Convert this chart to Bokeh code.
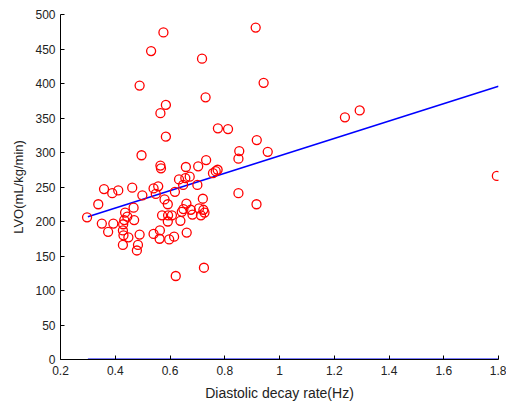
from bokeh.plotting import figure
from bokeh.models import FixedTicker, CustomJSTickFormatter, Range1d
from bokeh.embed import file_html
from bokeh.resources import INLINE

# Scatter data (Diastolic decay rate in Hz, LVO in mL/kg/min)
decay_rate = [
    0.576, 0.913, 0.531, 0.717, 0.489, 0.942, 0.730, 0.585, 0.565, 0.775,
    0.812, 0.585, 0.917, 0.496, 0.853, 0.957, 0.850, 0.732, 1.239, 1.293,
    1.794, 0.916, 0.850, 0.565, 0.567, 0.658, 0.703, 0.757, 0.767, 0.774,
    0.633, 0.656, 0.672, 0.648, 0.700, 0.540, 0.557, 0.548, 0.618, 0.580,
    0.592, 0.720, 0.297, 0.338, 0.359, 0.389, 0.411, 0.462, 0.499, 0.351,
    0.393, 0.374, 0.467, 0.436, 0.444, 0.433, 0.469, 0.429, 0.428, 0.430,
    0.448, 0.428, 0.489, 0.483, 0.479, 0.540, 0.563, 0.562, 0.597, 0.615,
    0.621, 0.724, 0.661, 0.571, 0.593, 0.607, 0.592, 0.638, 0.660, 0.649,
    0.643, 0.676, 0.682, 0.706, 0.713, 0.722, 0.726,
]
lvo = [
    474, 481, 447, 436, 397, 401, 380, 369, 357, 335,
    334, 323, 318, 296, 302, 301, 291, 289, 351, 361,
    266, 225, 241, 281, 277, 279, 280, 270, 273, 275,
    261, 263, 265, 253, 253, 248, 251, 240, 243, 232,
    225, 233, 206, 225, 247, 241, 245, 249, 238, 197,
    197, 185, 220, 213, 207, 202, 202, 196, 187, 180,
    177, 166, 181, 166, 158, 182, 187, 175, 174, 178,
    121, 133, 184, 209, 209, 209, 200, 201, 226, 218,
    214, 217, 210, 219, 209, 217, 213,
]

# Fitted regression line and zero baseline
fit_x = [0.3, 1.8]
fit_y = [207, 396]
zero_x = [0.3, 1.8]
zero_y = [0, 0]

x_ticks = [0.2, 0.4, 0.6, 0.8, 1.0, 1.2, 1.4, 1.6, 1.8]
y_ticks = [0, 50, 100, 150, 200, 250, 300, 350, 400, 450, 500]

FONT = "Liberation Sans"

p = figure(width=506, height=403, output_backend="svg", toolbar_location=None,
           x_range=Range1d(0.2, 1.8), y_range=Range1d(0, 500),
           min_border_left=60, min_border_right=8, min_border_top=14,
           min_border_bottom=44)
p.outline_line_color = None
p.xgrid.visible = False
p.ygrid.visible = False
p.background_fill_color = "white"

p.line(zero_x, zero_y, line_color="#0000ff", line_width=2.2)
p.line(fit_x, fit_y, line_color="#0000ff", line_width=1.6)
p.scatter(decay_rate, lvo, marker="circle", size=9, fill_color=None,
          line_color="#ff0000", line_width=1.3)

for ax in (p.xaxis[0], p.yaxis[0]):
    ax.major_tick_in = 4
    ax.major_tick_out = 0
    ax.minor_tick_line_color = None
    ax.axis_line_color = "black"
    ax.major_tick_line_color = "black"
    ax.major_label_text_font = FONT
    ax.major_label_text_font_size = "12px"
    ax.major_label_text_color = "#222222"
    ax.axis_label_text_font = FONT
    ax.axis_label_text_font_style = "normal"
    ax.axis_label_text_color = "#222222"

p.xaxis.axis_label_text_font_size = "14px"
p.yaxis.axis_label_text_font_size = "13px"
p.xaxis.ticker = FixedTicker(ticks=x_ticks)
p.yaxis.ticker = FixedTicker(ticks=y_ticks)
p.xaxis.formatter = CustomJSTickFormatter(code="return tick.toFixed(1).replace(/\\.0$/, '');")
p.xaxis.axis_label = "Diastolic decay rate(Hz)"
p.yaxis.axis_label = "LVO(mL/kg/min)"
p.xaxis.major_label_standoff = 6
p.xaxis.axis_label_standoff = 7
p.yaxis.major_label_standoff = 5
p.yaxis.axis_label_standoff = 6

open("out.html", "w").write(file_html(p, INLINE))
